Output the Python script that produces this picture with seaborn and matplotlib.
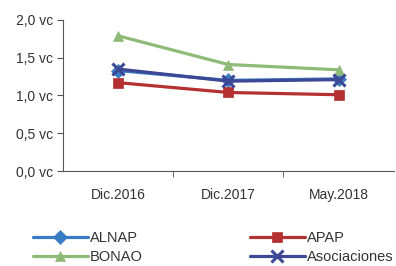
import pandas as pd
import numpy as np
import matplotlib
matplotlib.use('Agg')
import matplotlib.pyplot as plt
import seaborn as sns

periods = ['Dic.2016', 'Dic.2017', 'May.2018']
alnap = [1.33, 1.20, 1.22]
apap = [1.17, 1.04, 1.01]
bonao = [1.79, 1.41, 1.34]
asociaciones = [1.35, 1.19, 1.21]

series_names = ['ALNAP', 'BONAO', 'APAP', 'Asociaciones']
series_values = [alnap, bonao, apap, asociaciones]
colors = {'ALNAP': '#3a7cc4', 'APAP': '#b53131', 'BONAO': '#8dbb77', 'Asociaciones': '#3c4796'}
markers = {'ALNAP': 'D', 'APAP': 's', 'BONAO': '^', 'Asociaciones': 'x'}

sns.set_style('ticks')
plt.rcParams['font.family'] = ['Liberation Sans', 'DejaVu Sans']

fig = plt.figure(figsize=(3.96, 2.66), dpi=100)
ax = fig.add_axes([0.159, 0.357, 0.835, 0.568])

for name, vals in zip(series_names, series_values):
    df = pd.DataFrame({'x': np.arange(len(periods)), 'y': vals})
    mk = markers[name]
    sns.lineplot(data=df, x='x', y='y', ax=ax, color=colors[name], linewidth=2.3,
                 marker=mk, markersize=7 if mk != 'x' else 8,
                 markeredgewidth=0.5 if mk != 'x' else 2.2,
                 markeredgecolor=colors[name], label=name)

ax.set_xlim(-0.5, 2.5)
ax.set_ylim(0, 2.0)
ax.set_yticks([0, 0.5, 1.0, 1.5, 2.0])
ax.set_yticklabels([f'{v:.1f} vc'.replace('.', ',') for v in [0, 0.5, 1.0, 1.5, 2.0]])
ax.set_xticks(range(len(periods)))
ax.set_xticklabels(periods)
ax.tick_params(axis='x', length=0, pad=12)
ax.set_xticks([0.5, 1.5], minor=True)
ax.tick_params(axis='x', which='minor', length=4, color='#555555')
ax.tick_params(axis='y', length=4, color='#555555', pad=3)
ax.tick_params(labelsize=10, labelcolor='#333333')
ax.set_xlabel('')
ax.set_ylabel('')
sns.despine(ax=ax, top=True, right=True)
for s in ['left', 'bottom']:
    ax.spines[s].set_color('#555555')

ax.legend(loc='upper left', bbox_to_anchor=(-0.109, -0.356), ncol=2, frameon=False,
          fontsize=10.5, handlelength=3.8, columnspacing=7.35, labelspacing=0.35,
          handletextpad=0.1, labelcolor='#333333', borderaxespad=0)

fig.savefig('out.png', dpi=100)
